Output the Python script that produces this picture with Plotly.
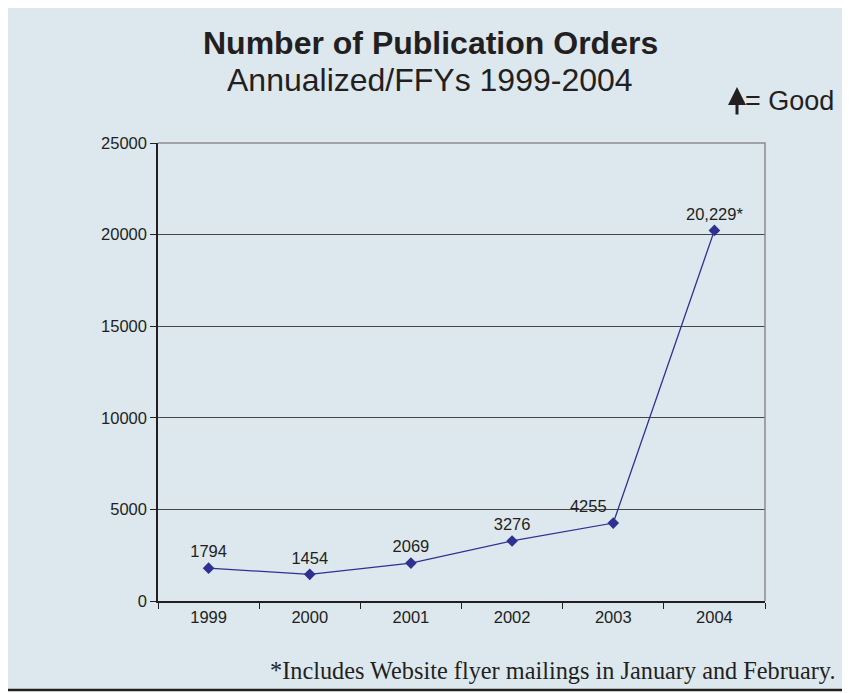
import plotly.graph_objects as go

years = ["1999", "2000", "2001", "2002", "2003", "2004"]
orders = [1794, 1454, 2069, 3276, 4255, 20229]
point_labels = ["1794", "1454", "2069", "3276", "4255", "20,229*"]
label_positions = ["top center", "top center", "top center", "top center", "top left", "top center"]
y_ticks = [0, 5000, 10000, 15000, 20000, 25000]
y_tick_labels = ["0", "5000", "10000", "15000", "20000", "25000"]

title_text = "<b>Number of Publication Orders</b>"
subtitle_text = "Annualized/FFYs 1999-2004"
legend_text = "= Good"
footnote_text = "*Includes Website flyer mailings in January and February."

# page body has an 8px margin; work in window pixels and shift
O = 8
W, H = 850 - O, 693 - O
L, R, T, B = 158 - O, 850 - 765, 143 - O, 693 - 601
PW, PH = W - L - R, H - T - B

def px(x):
    return (x - O - L) / PW

def py(y):
    return (H - B - (y - O)) / PH

bg = "#dce7ee"
navy = "#2e3192"
ink = "#231f20"
font = "Liberation Sans, Arial, sans-serif"

fig = go.Figure()
fig.add_trace(go.Scatter(
    x=years, y=orders, mode="lines+markers+text",
    text=point_labels, textposition=label_positions,
    textfont=dict(family=font, size=16.5, color=ink),
    line=dict(color=navy, width=1.3),
    marker=dict(symbol="diamond", size=9, color=navy),
    cliponaxis=False, showlegend=False,
))

shapes = [
    dict(type="rect", xref="paper", yref="paper",
         x0=px(5), x1=px(880), y0=py(690), y1=py(5),
         fillcolor=bg, line=dict(color=ink, width=2.5), layer="below"),
    dict(type="path", xref="paper", yref="paper",
         path="M 0,1 L 1,1 L 1,0", line=dict(color="#8a8d90", width=1.5), layer="above"),
]

annotations = [
    dict(text=title_text, xref="paper", yref="paper", x=px(430), y=py(43),
         xanchor="center", yanchor="middle", showarrow=False,
         font=dict(family=font, size=32, color=ink)),
    dict(text=subtitle_text, xref="paper", yref="paper", x=px(430), y=py(80),
         xanchor="center", yanchor="middle", showarrow=False,
         font=dict(family=font, size=32, color=ink)),
    dict(text=legend_text, xref="paper", yref="paper", x=px(743), y=py(101),
         xanchor="left", yanchor="middle", showarrow=False,
         font=dict(family=font, size=27, color=ink)),
    dict(text="", xref="paper", yref="paper", x=px(737), y=py(87),
         ax=0, ay=29, showarrow=True, arrowhead=2, arrowsize=1.2, arrowwidth=3,
         arrowcolor=ink),
    dict(text=footnote_text, xref="paper", yref="paper", x=px(838), y=py(670),
         xanchor="right", yanchor="middle", showarrow=False,
         font=dict(family="Liberation Serif, Times New Roman, serif", size=24.3, color=ink)),
]

fig.update_layout(
    width=W, height=H,
    margin=dict(l=L, r=R, t=T, b=B, pad=0),
    paper_bgcolor="white", plot_bgcolor="rgba(0,0,0,0)",
    shapes=shapes, annotations=annotations,
    xaxis=dict(type="category", range=[-0.5, len(years) - 0.5],
               tickson="boundaries", ticks="outside", ticklen=6,
               tickcolor=ink, showline=True, linecolor=ink, linewidth=1.5,
               showgrid=False, tickfont=dict(family=font, size=16.5, color=ink),
               fixedrange=True),
    yaxis=dict(range=[0, 25000], tickvals=y_ticks, ticktext=y_tick_labels,
               ticks="outside", ticklen=6,
               tickcolor=ink, showline=True, linecolor=ink, linewidth=1.5,
               showgrid=True, gridcolor="#454545", gridwidth=1, zeroline=False,
               tickfont=dict(family=font, size=16.5, color=ink), fixedrange=True),
)

fig.write_html("out.html")
